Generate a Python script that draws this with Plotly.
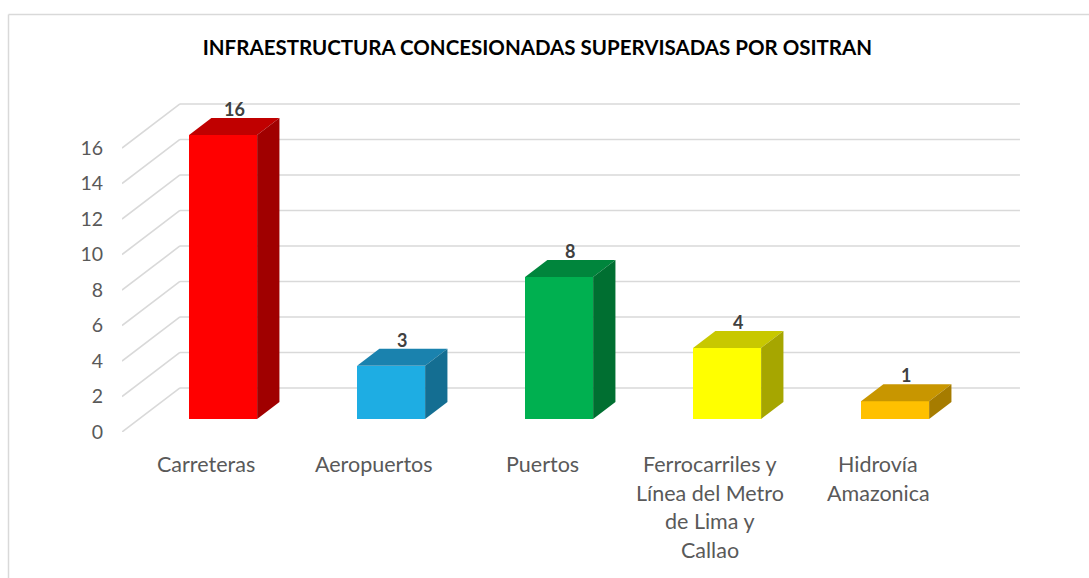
import plotly.graph_objects as go

# ---- data ----
categories = ["Carreteras", "Aeropuertos", "Puertos",
              "Ferrocarriles y\nLínea del Metro\nde Lima y\nCallao",
              "Hidrovía\nAmazonica"]
values = [16, 3, 8, 4, 1]
front_colors = ["#FF0000", "#1EADE3", "#00B050", "#FFFF00", "#FFC000"]
top_colors = ["#C00000", "#1A82AE", "#00853C", "#C8C800", "#C89600"]
side_colors = ["#A00000", "#146E92", "#006F31", "#A6A600", "#A67C00"]
y_ticks = [0, 2, 4, 6, 8, 10, 12, 14, 16]
title = "INFRAESTRUCTURA CONCESIONADAS SUPERVISADAS POR OSITRAN"

# ---- pseudo-3D geometry (in axis units) ----
DX = 0.345          # horizontal shift from front plane to back wall (category units)
DY = 2.48           # vertical shift from front plane to back wall (value units)
D1, D2 = 0.295, 0.68  # bar front / back depth fractions
BW = 0.405          # bar width
GRID = "#D9D9D9"
TXT = "#595959"
FONT = "Lato"

W, H = 1089, 578
ML, MR, MT, MB = 122, 59, 80, 146
pw, ph = W - ML - MR, H - MT - MB
xr = [-0.5, -0.5 + pw / 168.0]
yr = [0, ph / 17.75]

fig = go.Figure()

shapes = []
# back wall gridlines + diagonal side-wall lines
n = len(categories)
for v in y_ticks:
    shapes.append(dict(type="line", xref="x", yref="y", layer="below",
                       x0=-0.5 + DX, x1=n - 0.5 + DX, y0=v + DY, y1=v + DY,
                       line=dict(color=GRID, width=1.6)))
    shapes.append(dict(type="line", xref="x", yref="y", layer="below",
                       x0=-0.5, x1=-0.5 + DX, y0=v, y1=v + DY,
                       line=dict(color=GRID, width=1.6)))

# front faces via bar trace
xs_front = [i + D1 * DX for i in range(n)]
fig.add_trace(go.Bar(x=xs_front, y=values, base=[D1 * DY] * n, width=BW,
                     marker=dict(color=front_colors, line=dict(width=0)),
                     hoverinfo="skip", showlegend=False))

ddx = (D2 - D1) * DX
b1, b2 = D1 * DY, D2 * DY
annotations = []
for i, v in enumerate(values):
    x0 = xs_front[i] - BW / 2
    x1 = xs_front[i] + BW / 2
    top = (f"M{x0},{v + b1} L{x1},{v + b1} L{x1 + ddx},{v + b2} "
           f"L{x0 + ddx},{v + b2} Z")
    side = (f"M{x1},{b1} L{x1},{v + b1} L{x1 + ddx},{v + b2} "
            f"L{x1 + ddx},{b2} Z")
    shapes.append(dict(type="path", xref="x", yref="y", path=top,
                       fillcolor=top_colors[i], line=dict(width=0), layer="above"))
    shapes.append(dict(type="path", xref="x", yref="y", path=side,
                       fillcolor=side_colors[i], line=dict(width=0), layer="above"))
    annotations.append(dict(x=xs_front[i] + ddx / 2, y=v + b2, xref="x", yref="y",
                            text=f"<b>{v}</b>", showarrow=False, yanchor="bottom",
                            yshift=-4, font=dict(family=FONT, size=18, color="#404040")))

# category labels (front plane), one annotation per line
for i, c in enumerate(categories):
    for k, line in enumerate(c.split("\n")):
        annotations.append(dict(x=i, y=0, xref="x", yref="y", text=line,
                                showarrow=False, yanchor="middle",
                                yshift=-32 - 28.5 * k,
                                font=dict(family=FONT, size=21.5, color=TXT)))

# chart border (left + top)
bx = (8.5 - ML) / pw
by = (H - MB - 14.5) / ph
shapes.append(dict(type="line", xref="paper", yref="paper", x0=bx, x1=bx,
                   y0=-1, y1=by, line=dict(color=GRID, width=1.5)))
shapes.append(dict(type="line", xref="paper", yref="paper", x0=bx, x1=2,
                   y0=by, y1=by, line=dict(color=GRID, width=1.5)))

fig.update_layout(
    width=W, height=H,
    margin=dict(l=ML, r=MR, t=MT, b=MB),
    paper_bgcolor="white", plot_bgcolor="white",
    shapes=shapes, annotations=annotations,
    title=dict(text=f"<b>{title}</b>", x=0.4935, xanchor="center",
               y=1 - 48 / H, yanchor="middle",
               font=dict(family=FONT, size=20.5, color="#000000")),
    xaxis=dict(range=xr, showgrid=False, zeroline=False, showline=False,
               showticklabels=False, fixedrange=True),
    yaxis=dict(range=yr, tickvals=y_ticks, showgrid=False, zeroline=False,
               showline=False, ticklabelstandoff=18,
               tickfont=dict(family=FONT, size=19.5, color=TXT), fixedrange=True),
    bargap=0,
)

fig.write_html("out.html")
